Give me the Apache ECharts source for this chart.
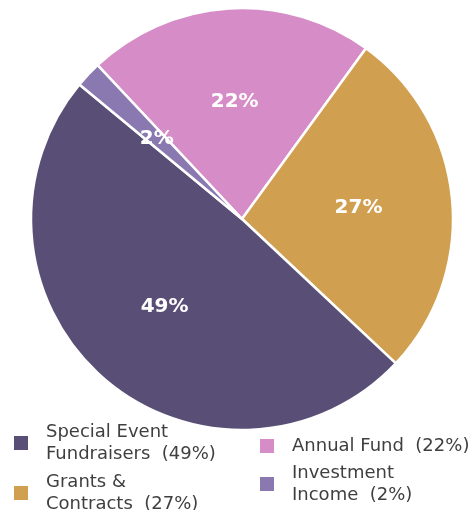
<!DOCTYPE html>
<html><head><meta charset="utf-8">
<script src="https://cdn.jsdelivr.net/npm/echarts@6/dist/echarts.min.js"></script>
<style>html,body{margin:0;padding:0;background:#fff}#c{width:475px;height:510px}</style>
</head><body><div id="c"></div>
<script>
// Pie order (clockwise from start angle)
const categories = ['Annual Fund', 'Grants & Contracts', 'Special Event Fundraisers', 'Investment Income'];
const values = [22, 27, 49, 2];
const colors = ['#d68cc7', '#d09f4f', '#594f76', '#8a79b0'];
// Legend labels (two lines where wrapped in the reference)
const legendLabels = {
  'Special Event Fundraisers': 'Special Event\nFundraisers  (49%)',
  'Annual Fund': 'Annual Fund  (22%)',
  'Grants & Contracts': 'Grants &\nContracts  (27%)',
  'Investment Income': 'Investment\nIncome  (2%)'
};

const chart = echarts.init(document.getElementById('c'));
function lg(name, left, top) {
  return {
    data: [name], left: left, top: top, padding: 0,
    itemWidth: 16, itemHeight: 16, icon: 'rect',
    formatter: n => legendLabels[n],
    selectedMode: false,
    textStyle: { fontFamily: 'DejaVu Sans', fontSize: 18, color: '#3f3f3f', lineHeight: 22, padding: [0, 0, 0, 12] }
  };
}
const pieData = categories.map((c, i) => ({ name: c, value: values[i] }));
chart.setOption({
  animation: false,
  color: colors,
  legend: [
    lg('Special Event Fundraisers', 12, 421),
    lg('Annual Fund', 258, 435),
    lg('Grants & Contracts', 12, 471),
    lg('Investment Income', 258, 462)
  ],
  series: [{
    type: 'pie',
    center: [242, 219],
    radius: [0, 211],
    startAngle: 133.2,
    clockwise: true,
    itemStyle: { borderColor: '#fff', borderWidth: 2.5 },
    label: { show: false },
    labelLine: { show: false },
    emphasis: { disabled: true },
    data: pieData
  }, {
    // label-only layer so labels sit at ~55% of the radius
    type: 'pie',
    center: [242, 219],
    radius: [0, 228],
    startAngle: 133.2,
    clockwise: true,
    silent: true,
    legendHoverLink: false,
    itemStyle: { color: 'rgba(0,0,0,0)', borderWidth: 0 },
    label: {
      show: true, position: 'inside', formatter: p => p.value + '%',
      color: '#fff', fontFamily: 'DejaVu Sans', fontWeight: 'bold', fontSize: 20
    },
    labelLine: { show: false },
    emphasis: { disabled: true },
    data: pieData
  }]
});
</script></body></html>
